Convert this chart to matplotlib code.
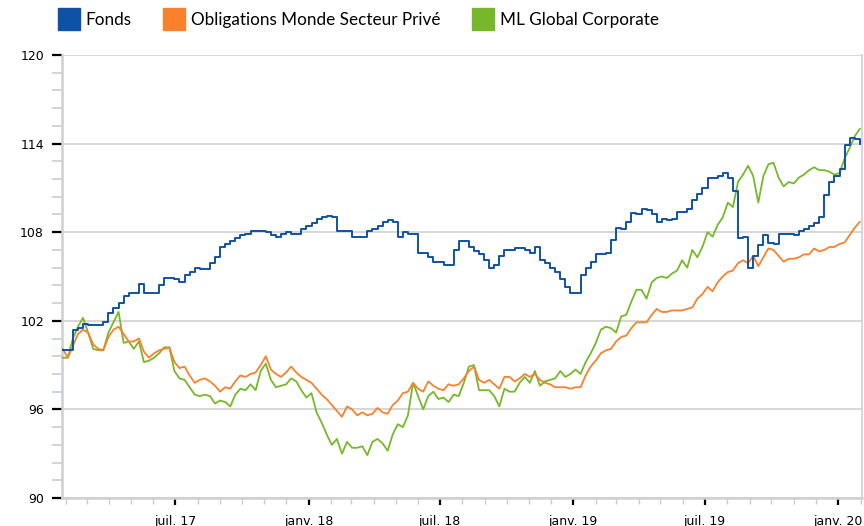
import numpy as np
import pandas as pd
import matplotlib
matplotlib.use("Agg")
import matplotlib.pyplot as plt
import matplotlib.dates as mdates
from matplotlib.ticker import MultipleLocator
from matplotlib.lines import Line2D

# weekly observations, first one on 27/01/2017
dates = pd.date_range("2017-01-27", periods=158, freq="7D")

fonds = [
    100.0, 100.0, 101.4, 101.5, 101.8, 101.7, 101.7, 101.7, 101.9, 102.5,
    102.9, 103.2, 103.7, 103.9, 103.9, 104.5, 103.9, 103.9, 103.9, 104.4,
    104.9, 104.9, 104.8, 104.6, 105.1, 105.3, 105.6, 105.5, 105.5, 105.9,
    106.3, 107.0, 107.2, 107.4, 107.6, 107.8, 107.9, 108.1, 108.1, 108.1,
    108.0, 107.8, 107.7, 107.9, 108.0, 107.9, 107.9, 108.2, 108.4, 108.6,
    108.9, 109.0, 109.1, 109.0, 108.1, 108.1, 108.1, 107.7, 107.7, 107.7,
    108.1, 108.2, 108.4, 108.7, 108.8, 108.7, 107.7, 108.0, 107.9, 107.9,
    106.6, 106.6, 106.3, 106.0, 106.0, 105.8, 105.8, 106.8, 107.4, 107.4,
    107.0, 106.7, 106.5, 106.1, 105.6, 105.8, 106.4, 106.8, 106.8, 106.9,
    106.9, 106.8, 106.6, 107.0, 106.1, 105.9, 105.6, 105.3, 104.8, 104.3,
    103.9, 103.9, 105.1, 105.6, 106.0, 106.5, 106.5, 106.6, 107.5, 108.3,
    108.2, 108.7, 109.3, 109.2, 109.6, 109.5, 109.2, 108.7, 108.9, 108.8,
    108.9, 109.4, 109.4, 109.6, 110.2, 110.6, 111.0, 111.7, 111.7, 111.8,
    112.0, 111.7, 110.8, 107.6, 107.7, 105.6, 106.4, 107.1, 107.8, 107.3,
    107.2, 107.9, 107.9, 107.9, 107.8, 108.1, 108.2, 108.4, 108.6, 109.0,
    110.5, 111.4, 111.8, 112.3, 113.9, 114.4, 114.3, 114.0,
]

obligations = [
    100.1, 99.5, 100.3, 101.1, 101.4, 101.2, 100.4, 100.1, 100.0, 100.9,
    101.4, 101.6, 101.1, 100.6, 100.6, 100.8, 99.9, 99.5, 99.8, 100.0,
    100.1, 100.2, 99.2, 98.8, 98.9, 98.3, 97.8, 98.0, 98.1, 97.9,
    97.6, 97.2, 97.5, 97.4, 97.9, 98.3, 98.2, 98.4, 98.5, 99.0,
    99.6, 98.7, 98.4, 98.2, 98.5, 98.9, 98.5, 98.2, 98.0, 97.8,
    97.4, 97.0, 96.7, 96.3, 95.9, 95.5, 96.2, 96.0, 95.6, 95.8,
    95.6, 95.7, 96.1, 95.8, 95.7, 96.3, 96.6, 97.1, 97.2, 97.8,
    97.4, 97.2, 97.9, 97.6, 97.4, 97.3, 97.7, 97.6, 97.7, 98.1,
    98.6, 98.9, 98.0, 97.8, 98.0, 97.7, 97.4, 98.2, 98.2, 97.9,
    98.1, 98.4, 98.2, 98.4, 98.0, 97.8, 97.7, 97.5, 97.5, 97.5,
    97.4, 97.5, 97.5, 98.3, 98.9, 99.3, 99.8, 100.0, 100.1, 100.6,
    100.9, 101.0, 101.5, 101.9, 101.9, 101.9, 102.4, 102.8, 102.6, 102.6,
    102.7, 102.7, 102.7, 102.8, 102.9, 103.5, 103.8, 104.3, 104.0, 104.6,
    105.0, 105.3, 105.4, 105.9, 106.1, 105.9, 106.4, 105.7, 106.3, 106.9,
    106.8, 106.4, 106.0, 106.2, 106.2, 106.3, 106.5, 106.5, 106.9, 106.7,
    106.8, 107.0, 107.0, 107.2, 107.3, 107.8, 108.3, 108.7,
]

ml_global = [
    99.5, 99.5, 100.8, 101.6, 102.2, 101.2, 100.1, 100.0, 100.0, 101.2,
    101.9, 102.6, 100.5, 100.6, 100.1, 100.6, 99.2, 99.3, 99.5, 99.8,
    100.2, 100.2, 98.6, 98.1, 98.0, 97.5, 97.0, 96.9, 97.0, 96.9,
    96.4, 96.6, 96.5, 96.2, 97.0, 97.4, 97.3, 97.7, 97.3, 98.6,
    99.1, 98.0, 97.5, 97.6, 97.7, 98.1, 97.9, 97.3, 96.8, 97.1,
    95.8, 95.1, 94.3, 93.6, 94.0, 93.0, 93.8, 93.4, 93.4, 93.5,
    92.9, 93.8, 94.0, 93.7, 93.2, 94.3, 95.0, 94.8, 95.6, 97.8,
    96.9, 96.0, 96.9, 97.2, 96.7, 96.8, 96.5, 97.0, 96.9, 97.8,
    98.9, 99.0, 97.3, 97.3, 97.3, 96.9, 96.2, 97.4, 97.2, 97.2,
    97.8, 98.2, 97.8, 98.6, 97.6, 97.9, 98.0, 98.1, 98.6, 98.2,
    98.4, 98.7, 98.4, 99.2, 99.8, 100.5, 101.4, 101.6, 101.5, 101.2,
    102.3, 102.4, 103.3, 104.1, 104.1, 103.5, 104.6, 104.9, 105.0, 104.9,
    105.2, 105.4, 106.1, 105.6, 106.8, 106.3, 107.0, 108.0, 107.7, 108.5,
    109.0, 110.0, 109.7, 111.4, 111.9, 112.5, 111.8, 110.0, 111.8, 112.6,
    112.7, 111.7, 111.1, 111.4, 111.3, 111.7, 111.9, 112.2, 112.4, 112.2,
    112.2, 112.1, 111.9, 112.0, 113.0, 113.7, 114.5, 115.0,
]

names = ["Fonds", "Obligations Monde Secteur Privé", "ML Global Corporate"]
colors = ["#0f52a5", "#f7812c", "#76b82a"]

fig = plt.figure(figsize=(8.64, 5.26), dpi=100)
ax = fig.add_axes([62 / 864, 1 - 498 / 526, 800 / 864, 443 / 526])

ax.plot(dates, ml_global, color=colors[2], lw=1.3, zorder=3)
ax.plot(dates, obligations, color=colors[1], lw=1.3, zorder=4)
ax.plot(dates, fonds, color=colors[0], lw=1.4, drawstyle="steps-post", zorder=5)

ax.set_ylim(90, 120)
ax.set_xlim(pd.Timestamp("2017-01-26"), pd.Timestamp("2020-02-03"))

ax.yaxis.set_major_locator(MultipleLocator(6))
ax.yaxis.set_minor_locator(MultipleLocator(1.2))
ax.grid(axis="y", which="major", color="#d3d3d3", lw=1.3)
ax.set_axisbelow(True)

ax.xaxis.set_major_locator(mdates.MonthLocator(bymonth=[1, 7]))
ax.xaxis.set_minor_locator(mdates.MonthLocator())
mois = {1: "janv.", 7: "juil."}
ax.xaxis.set_major_formatter(
    plt.FuncFormatter(lambda v, p: "%s %s" % (mois[mdates.num2date(v).month],
                                              mdates.num2date(v).strftime("%y"))))

for s in ["left", "bottom", "right"]:
    ax.spines[s].set_color("#ccd0d6")
    ax.spines[s].set_linewidth(1.8)
ax.spines["top"].set_visible(False)
ax.spines["right"].set_linewidth(1.2)

ax.tick_params(axis="y", which="major", length=7, width=1.6, color="black",
               labelsize=9, pad=6)
ax.tick_params(axis="y", which="minor", length=7, width=1.2, color="#c8ccd2")
ax.tick_params(axis="x", which="major", length=5, width=1.6, color="black",
               labelsize=9, pad=7)
ax.tick_params(axis="x", which="minor", length=4, width=1.0, color="#c8ccd2")

handles = [Line2D([], [], ls="none", marker="s", markersize=15.5, color=c) for c in colors]
leg = fig.legend(handles, names, loc="center left", bbox_to_anchor=(50 / 864, 1 - 20 / 526),
                 ncol=3, frameon=False, handlelength=1.2, handletextpad=0.38,
                 columnspacing=1.9, borderpad=0, prop={"family": "Lato", "size": 12.3})

fig.savefig("out.png", dpi=100)
